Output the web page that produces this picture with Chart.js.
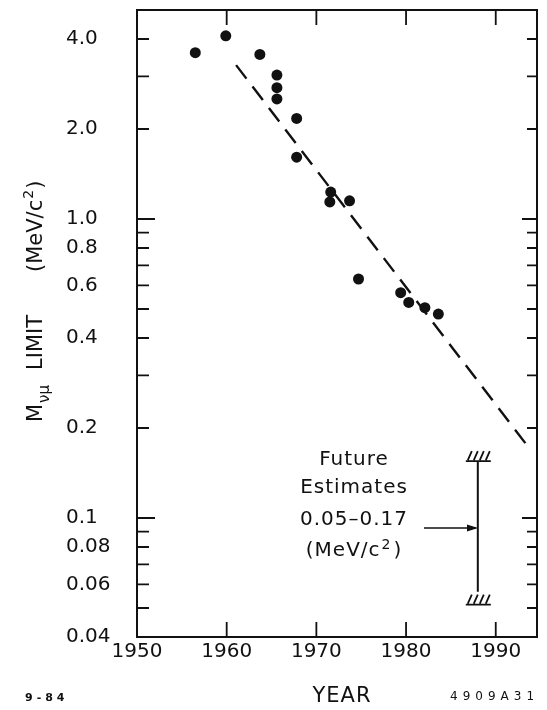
<!DOCTYPE html>
<html>
<head>
<meta charset="utf-8">
<script src="https://cdn.jsdelivr.net/npm/chart.js@4.4.1/dist/chart.umd.min.js"></script>
<style>
  body { margin: 0; background: #fff; }
  canvas { display: block; }
</style>
</head>
<body>
<canvas id="limitChart" width="547" height="710"></canvas>
<script>
// measured muon neutrino mass limits
const years = [1956.5, 1959.9, 1963.7, 1965.6, 1965.6, 1965.6, 1967.8, 1967.8, 1971.6, 1971.5, 1973.7, 1974.7, 1979.4, 1980.3, 1982.1, 1983.6];
const limits = [3.6, 4.1, 3.55, 3.03, 2.75, 2.52, 2.17, 1.61, 1.23, 1.14, 1.15, 0.63, 0.567, 0.526, 0.505, 0.481];

// dashed trend line
const trendYears = [1961.05, 1993.3];
const trendLimits = [3.27, 0.178];

// future estimate bar
const futureYear = 1988;
const futureRange = [0.155, 0.0567];
const arrowYears = [1982.0, 1987.8];
const arrowLimit = 0.0926;
const futureText = ['Future', 'Estimates', '0.05\u20130.17', '(MeV/c'];
const futureTextYear = 1974.2;
const futureTextLimits = [0.156, 0.126, 0.0988, 0.0775];

// axes
const xTicks = [1950, 1960, 1970, 1980, 1990];
const yLabelValues = [0.04, 0.06, 0.08, 0.1, 0.2, 0.4, 0.6, 0.8, 1, 2, 4];
const yLabelText = ['0.04', '0.06', '0.08', '0.1', '0.2', '0.4', '0.6', '0.8', '1.0', '2.0', '4.0'];
const yMinorTicks = [0.05, 0.06, 0.07, 0.08, 0.09, 0.1, 0.2, 0.3, 0.4, 0.5, 0.6, 0.7, 0.8, 0.9, 1, 2, 3, 4];
const yMajorTicks = [0.1, 1];

const ink = '#111';
const font = '"DejaVu Sans", sans-serif';

const toXY = (xs, ys) => xs.map((x, i) => ({x: x, y: ys[i]}));

const decor = {
	id: 'decor',
	afterDraw(chart) {
		const ctx = chart.ctx;
		const a = chart.chartArea;
		const xs = chart.scales.x;
		const ys = chart.scales.y;
		ctx.save();
		ctx.strokeStyle = ink;
		ctx.fillStyle = ink;
		ctx.lineWidth = 2;
		ctx.strokeRect(a.left, a.top, a.right - a.left, a.bottom - a.top);

		// inward ticks
		ctx.lineWidth = 1.8;
		ctx.beginPath();
		yMinorTicks.forEach(v => {
			const py = ys.getPixelForValue(v);
			const major = yMajorTicks.includes(v);
			ctx.moveTo(a.left, py); ctx.lineTo(a.left + (major ? 18 : 12), py);
			ctx.moveTo(a.right, py); ctx.lineTo(a.right - (major ? 15 : 10), py);
		});
		xTicks.slice(1).forEach(v => {
			const px = xs.getPixelForValue(v);
			ctx.moveTo(px, a.top); ctx.lineTo(px, a.top + 15);
			ctx.moveTo(px, a.bottom); ctx.lineTo(px, a.bottom - 15);
		});
		ctx.stroke();

		// hatched limits of the future bar
		const cx = xs.getPixelForValue(futureYear);
		const hatch = (yLine) => {
			ctx.beginPath();
			ctx.moveTo(cx - 12, yLine); ctx.lineTo(cx + 13, yLine);
			for (let i = 0; i < 4; i++) {
				const x0 = cx - 10 + i * 6;
				ctx.moveTo(x0, yLine - 1); ctx.lineTo(x0 + 4, yLine - 10);
			}
			ctx.stroke();
		};
		hatch(ys.getPixelForValue(futureRange[0]));
		hatch(ys.getPixelForValue(futureRange[1]) + 13);

		// arrow head
		const ax = xs.getPixelForValue(arrowYears[1]);
		const ay = ys.getPixelForValue(arrowLimit);
		ctx.beginPath();
		ctx.moveTo(ax + 2, ay); ctx.lineTo(ax - 9, ay - 3.5); ctx.lineTo(ax - 9, ay + 3.5);
		ctx.closePath(); ctx.fill();

		// annotation text
		ctx.font = '20px ' + font;
		ctx.letterSpacing = '1px';
		ctx.textAlign = 'center';
		ctx.textBaseline = 'middle';
		const tx = xs.getPixelForValue(futureTextYear);
		futureText.slice(0, 3).forEach((t, i) => ctx.fillText(t, tx, ys.getPixelForValue(futureTextLimits[i])));
		// last line with raised 2
		const ly = ys.getPixelForValue(futureTextLimits[3]);
		const w1 = ctx.measureText(futureText[3]).width;
		ctx.font = '14px ' + font;
		const w2 = ctx.measureText('2').width;
		ctx.font = '20px ' + font;
		const w3 = ctx.measureText(')').width;
		let lx = tx - (w1 + w2 + w3 + 3) / 2;
		ctx.textAlign = 'left';
		ctx.fillText(futureText[3], lx, ly);
		ctx.font = '14px ' + font;
		ctx.fillText('2', lx + w1 + 1, ly - 6);
		ctx.font = '20px ' + font;
		ctx.fillText(')', lx + w1 + w2 + 3, ly);

		// x title
		ctx.textAlign = 'center';
		ctx.font = '21px ' + font;
		ctx.fillText('YEAR', 342, 697);

		// small figure codes
		ctx.font = 'bold 11px ' + font;
		ctx.letterSpacing = '4px';
		ctx.textAlign = 'left';
		ctx.fillText('9-84', 25, 698);
		ctx.font = '12px ' + font;
		ctx.letterSpacing = '5px';
		ctx.fillText('4909A31', 450, 697);
		ctx.letterSpacing = '0px';

		// y title, rotated, with subscript
		ctx.translate(42, 422);
		ctx.rotate(-Math.PI / 2);
		ctx.textBaseline = 'alphabetic';
		ctx.font = '21px ' + font;
		ctx.fillText('M', 0, 0);
		const mw = ctx.measureText('M').width;
		ctx.font = '15px ' + font;
		ctx.fillText('\u03BD\u03BC', mw + 1, 7);
		ctx.font = '21px ' + font;
		ctx.fillText('LIMIT', 52, 0);
		let px = 150;
		ctx.fillText('(MeV/c', px, 0);
		px += ctx.measureText('(MeV/c').width;
		ctx.font = '14px ' + font;
		ctx.fillText('2', px + 1, -9);
		px += ctx.measureText('2').width + 2;
		ctx.font = '21px ' + font;
		ctx.fillText(')', px, 0);
		ctx.restore();
	}
};

new Chart(
	document.getElementById('limitChart'),
	{
		type: 'scatter',
		data: {
			datasets: [
				{
					label: 'limits',
					data: toXY(years, limits),
					pointRadius: 5.5,
					pointBackgroundColor: ink,
					pointBorderWidth: 0
				},
				{
					label: 'trend',
					data: toXY(trendYears, trendLimits),
					showLine: true,
					pointRadius: 0,
					borderColor: ink,
					borderWidth: 2.4,
					borderDash: [17, 10]
				},
				{
					label: 'future',
					data: toXY([futureYear, futureYear], futureRange),
					showLine: true,
					pointRadius: 0,
					borderColor: ink,
					borderWidth: 2
				},
				{
					label: 'arrow',
					data: toXY(arrowYears, [arrowLimit, arrowLimit]),
					showLine: true,
					pointRadius: 0,
					borderColor: ink,
					borderWidth: 1.6
				}
			]
		},
		options: {
			responsive: false,
			animation: false,
			devicePixelRatio: 1,
			layout: {
				padding: {left: 66, right: 10, top: 10, bottom: 0}
			},
			plugins: {
				legend: {display: false},
				tooltip: {enabled: false}
			},
			scales: {
				x: {
					type: 'linear',
					min: 1950,
					max: 1994.6,
					afterBuildTicks: s => { s.ticks = xTicks.map(v => ({value: v})); },
					afterFit: s => { s.height = 73; s.paddingLeft = 0; s.paddingRight = 0; },
					grid: {display: false, drawTicks: false},
					border: {display: false},
					ticks: {
						padding: 3,
						color: ink,
						font: {family: font, size: 20},
						callback: v => String(v)
					}
				},
				y: {
					type: 'logarithmic',
					min: 0.04,
					max: 5,
					afterBuildTicks: s => { s.ticks = yLabelValues.map(v => ({value: v})); },
					afterFit: s => { s.width = 71; s.paddingTop = 0; s.paddingBottom = 0; },
					grid: {display: false, drawTicks: false},
					border: {display: false},
					ticks: {
						crossAlign: 'far',
						color: ink,
						font: {family: font, size: 20},
						callback: v => yLabelText[yLabelValues.indexOf(v)]
					}
				}
			}
		},
		plugins: [decor]
	}
);
</script>
</body>
</html>
